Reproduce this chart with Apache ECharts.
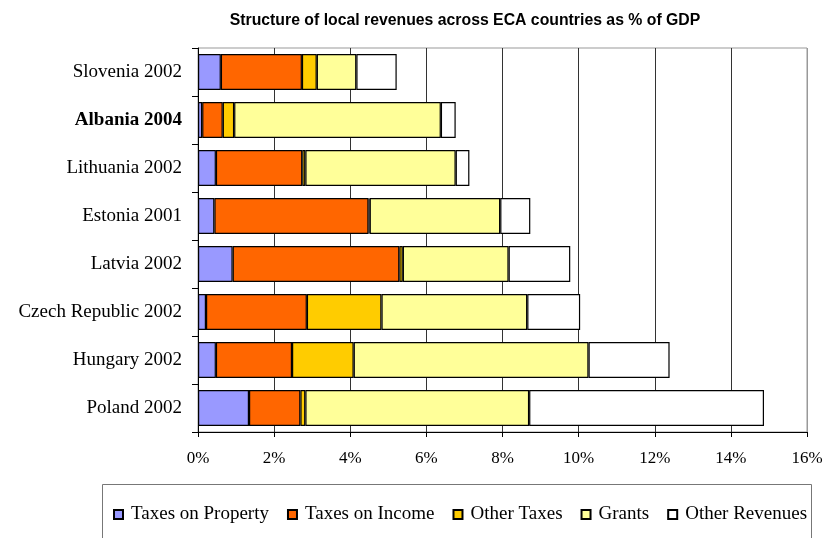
<!DOCTYPE html>
<html>
<head>
<meta charset="utf-8">
<script src="https://cdn.jsdelivr.net/npm/echarts@6/dist/echarts.min.js"></script>
<style>
  html, body { margin: 0; padding: 0; background: #fff; }
  #chart { width: 827px; height: 538px; }
</style>
</head>
<body>
<div id="chart"></div>
<script>
// Local revenue components, % of GDP, listed top to bottom
const categories = ['Slovenia 2002', 'Albania 2004', 'Lithuania 2002', 'Estonia 2001',
  'Latvia 2002', 'Czech Republic 2002', 'Hungary 2002', 'Poland 2002'];
const taxesOnProperty = [0.60, 0.11, 0.47, 0.43, 0.91, 0.21, 0.47, 1.34];
const taxesOnIncome   = [2.13, 0.54, 2.27, 4.05, 4.38, 2.65, 2.00, 1.35];
const otherTaxes      = [0.39, 0.30, 0.08, 0.03, 0.09, 1.96, 1.62, 0.13];
const grants          = [1.04, 5.43, 3.95, 3.43, 2.78, 3.83, 6.17, 5.88];
const otherRevenues   = [1.06, 0.39, 0.36, 0.79, 1.62, 1.39, 2.13, 6.17];
const xTicks = [0, 2, 4, 6, 8, 10, 12, 14, 16];

const serif = '"Liberation Serif", "Times New Roman", serif';
const sans = '"Liberation Sans", Arial, sans-serif';

const seriesDefs = [
  { name: 'Taxes on Property', data: taxesOnProperty, color: '#9999FF' },
  { name: 'Taxes on Income', data: taxesOnIncome, color: '#FF6600' },
  { name: 'Other Taxes', data: otherTaxes, color: '#FFCC00' },
  { name: 'Grants', data: grants, color: '#FFFF99' },
  { name: 'Other Revenues', data: otherRevenues, color: '#FFFFFF' }
];

const chart = echarts.init(document.getElementById('chart'), null, { renderer: 'canvas' });

chart.setOption({
  animation: false,
  backgroundColor: '#fff',
  title: {
    text: 'Structure of local revenues across ECA countries as % of GDP',
    left: 460,
    top: 8,
    textAlign: 'center',
    textStyle: { fontFamily: sans, fontWeight: 'bold', fontSize: 15.8, color: '#000' }
  },
  grid: {
    left: 198, right: 20, top: 48, bottom: 106,
    show: true, borderColor: '#999', borderWidth: 1, backgroundColor: 'transparent'
  },
  graphic: [{
    type: 'rect',
    shape: { x: 102.5, y: 484.5, width: 709, height: 80 },
    style: { fill: 'none', stroke: '#777', lineWidth: 1 },
    silent: true
  }],
  legend: {
    left: 108,
    top: 500,
    itemWidth: 9,
    itemHeight: 9,
    itemGap: 18,
    icon: 'rect',
    textStyle: { fontFamily: serif, fontSize: 19, color: '#000', padding: [0, 0, 0, 3] },
    data: seriesDefs.map(s => s.name)
  },
  xAxis: {
    type: 'value',
    min: xTicks[0],
    max: xTicks[xTicks.length - 1],
    interval: 2,
    axisLine: { show: true, lineStyle: { color: '#000', width: 1 } },
    axisTick: { show: true, length: 5, lineStyle: { color: '#000' } },
    axisLabel: {
      formatter: '{value}%', margin: 18,
      fontFamily: serif, fontSize: 17, color: '#000'
    },
    splitLine: {
      show: true,
      lineStyle: { color: ['#000', '#333', '#333', '#333', '#333', '#333', '#333', '#333', '#999'], width: 1 }
    }
  },
  yAxis: {
    type: 'category',
    inverse: true,
    data: categories.map(c => c === 'Albania 2004'
      ? { value: c, textStyle: { fontWeight: 'bold' } }
      : c),
    axisLine: { show: true, lineStyle: { color: '#000', width: 1 } },
    axisTick: { show: true, length: 6, lineStyle: { color: '#000' } },
    axisLabel: { margin: 16, fontFamily: serif, fontSize: 19, color: '#000' }
  },
  series: seriesDefs.map(s => ({
    name: s.name,
    type: 'bar',
    stack: 'total',
    barCategoryGap: '25%',
    data: s.data,
    itemStyle: { color: s.color, borderColor: '#000', borderWidth: 1.2 }
  }))
});
</script>
</body>
</html>
